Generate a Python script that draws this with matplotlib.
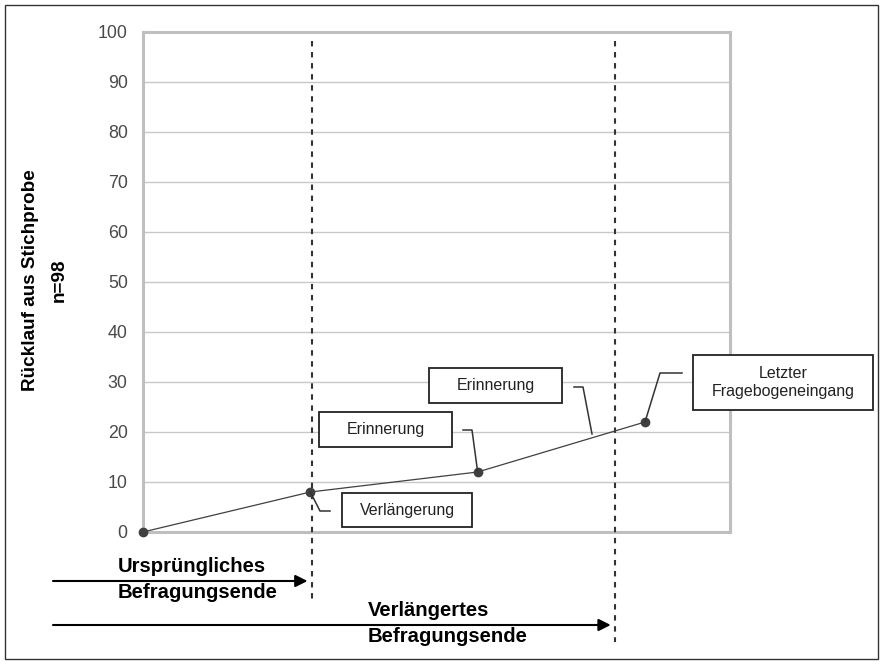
import matplotlib.pyplot as plt
from matplotlib.patches import Rectangle
from matplotlib.lines import Line2D
import numpy as np

plt.rcParams['font.family'] = ['Liberation Sans', 'DejaVu Sans']

# survey return over time (arbitrary time steps)
zeitpunkt = [0, 1, 2, 3]
ruecklauf = [0, 8, 12, 22]
y_ticks = list(range(0, 101, 10))

# survey deadlines (same time scale)
ende_x = [1.008, 2.82]
ende_labels = ["Ursprüngliches\nBefragungsende", "Verlängertes\nBefragungsende"]

# callouts: label, point on the line they refer to
callout_labels = ["Verlängerung", "Erinnerung", "Erinnerung", "Letzter\nFragebogeneingang"]
callout_x = [1, 2, 2.683, 3]

W, H = 884, 664
fig = plt.figure(figsize=(W / 100, H / 100), dpi=100)


def fx(px):
    return px / W


def fy(py):
    return 1 - py / H


ax = fig.add_axes([fx(143), fy(532), (730 - 143) / W, (532 - 32) / H])
ax.plot(zeitpunkt, ruecklauf, color='#404040', lw=0.9, marker='o', ms=6,
        clip_on=False, zorder=4)
ax.set_xlim(0, 3.508)
ax.set_ylim(0, 100)
ax.set_yticks(y_ticks)
ax.set_xticks([])
ax.tick_params(axis='y', length=0, pad=11, labelsize=12.8, labelcolor='#4a4a4a')
ax.grid(axis='y', color='#c8c8c8', lw=1)
ax.set_axisbelow(True)
for s in ax.spines.values():
    s.set_color('#bfbfbf')
    s.set_linewidth(2.2)

# dashed deadline lines, reaching below the plot
for xv, bottom in zip(ende_x, [-14.2, -22]):
    ax.plot([xv, xv], [98.2, bottom], color='#333333', lw=1.5,
            ls=(0, (2.6, 2.7)), clip_on=False, zorder=3)

# arrows to the deadlines and their labels
arrow_y = [581, 625]
text_left = [118, 368]
for xv, ay, lab, tl in zip(ende_x, arrow_y, ende_labels, text_left):
    ax.annotate('', xy=(xv, fy(ay)), xycoords=('data', 'figure fraction'),
                xytext=(fx(53), fy(ay)), textcoords='figure fraction',
                arrowprops=dict(arrowstyle='-|>', color='black', lw=1.5,
                                mutation_scale=18, shrinkA=0, shrinkB=3),
                annotation_clip=False)
    l1, l2 = lab.split('\n')
    fig.text(fx(tl), fy(ay - 14), l1, fontsize=14.6, fontweight='bold',
             ha='left', va='center')
    fig.text(fx(tl), fy(ay + 12), l2, fontsize=14.6, fontweight='bold',
             ha='left', va='center')

# callout boxes (pixel layout) and leader lines
boxes = [(342, 493, 472, 527), (319, 412, 452, 447),
         (429, 368, 562, 403), (693, 355, 873, 410)]
elbows = [[(330, 511), (320, 511)], [(463, 430), (472, 430)],
          [(574, 387), (583, 387)], [(682, 373), (660, 373)]]
leader_end_px = [None, None, (592, 434), None]

to_fig = ax.transData + fig.transFigure.inverted()
for lab, cx, box, elb, endp in zip(callout_labels, callout_x, boxes, elbows, leader_end_px):
    x0, y0, x1, y1 = box
    fig.add_artist(Rectangle((fx(x0), fy(y1)), (x1 - x0) / W, (y1 - y0) / H,
                             transform=fig.transFigure, facecolor='white',
                             edgecolor='#222222', lw=1.3, zorder=5))
    fig.text(fx((x0 + x1) / 2), fy((y0 + y1) / 2), lab, fontsize=11.5,
             color='#222222', ha='center', va='center', linespacing=1.25,
             zorder=6)
    if endp is None:
        cy = np.interp(cx, zeitpunkt, ruecklauf)
        ex, ey = to_fig.transform((cx, cy))
    else:
        ex, ey = fx(endp[0]), fy(endp[1])
    xs = [fx(p[0]) for p in elb] + [ex]
    ys = [fy(p[1]) for p in elb] + [ey]
    fig.add_artist(Line2D(xs, ys, transform=fig.transFigure, color='#333333',
                          lw=1.1, zorder=5))

# y axis title
fig.text(fx(31), fy(280), "Rücklauf aus Stichprobe", rotation=90, fontsize=13.6,
         fontweight='bold', ha='center', va='center')
fig.text(fx(59), fy(280), "n=98", rotation=90, fontsize=13.6,
         fontweight='bold', ha='center', va='center')

# outer frame
fig.add_artist(Rectangle((fx(5), fy(659)), (878 - 5) / W, (659 - 5) / H,
                         transform=fig.transFigure, fill=False,
                         edgecolor='#333333', lw=1))

fig.savefig('out.png', dpi=100)
